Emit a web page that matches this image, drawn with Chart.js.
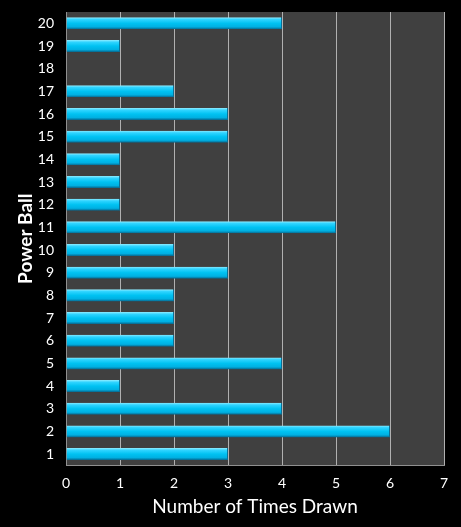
<!DOCTYPE html>
<html><head><meta charset="utf-8">
<script src="https://cdn.jsdelivr.net/npm/chart.js@4"></script>
<style>html,body{margin:0;padding:0;background:#000;}#wrap{width:461px;height:527px;}</style>
</head><body><div id="wrap"><canvas id="c"></canvas></div>
<script>
const categories = ['1','2','3','4','5','6','7','8','9','10','11','12','13','14','15','16','17','18','19','20'];
const timesDrawn = [3,6,4,1,4,2,2,2,3,2,5,1,1,1,3,3,2,0,1,4];
const xTicks = [0,1,2,3,4,5,6,7];

const plotBg = {
  id:'plotBg',
  beforeDraw(chart){
    const {ctx, chartArea:a} = chart;
    ctx.save(); ctx.fillStyle='#404040';
    ctx.fillRect(a.left,a.top,a.right-a.left,a.bottom-a.top); ctx.restore();
  }
};
function barFill(context){
  const chart = context.chart;
  const ys = chart.scales && chart.scales.y;
  if(!ys || !chart.chartArea) return '#00c0f0';
  const y = ys.getPixelForValue(context.dataIndex);
  const h = 6;
  const g = chart.ctx.createLinearGradient(0,y-h,0,y+h);
  g.addColorStop(0,'#90ecff');
  g.addColorStop(0.18,'#30d4ff');
  g.addColorStop(0.5,'#00c2f2');
  g.addColorStop(0.8,'#00b0e2');
  g.addColorStop(1,'#07648a');
  return g;
}
new Chart(document.getElementById('c'),{
  type:'bar',
  data:{labels:categories,datasets:[{data:timesDrawn,backgroundColor:barFill,borderColor:'#0b6f95',borderWidth:{right:1},borderSkipped:'left',categoryPercentage:1,barPercentage:0.53}]},
  options:{
    indexAxis:'y',responsive:true,maintainAspectRatio:false,animation:false,
    layout:{padding:{top:12,right:17,left:14,bottom:9}},
    plugins:{legend:{display:false},tooltip:{enabled:false}},
    scales:{
      x:{min:0,max:7,afterBuildTicks(s){s.ticks=xTicks.map(v=>({value:v}));},
        grid:{color:'#b0b0b0',lineWidth:1,drawTicks:false},
        border:{color:'#909090'},
        ticks:{color:'#fff',font:{family:'Lato',size:14},padding:10},
        title:{display:true,text:'Number of Times Drawn',color:'#fff',font:{family:'Lato',size:19},padding:{top:-7,bottom:0}}},
      y:{reverse:true,grid:{display:false,drawTicks:false},border:{color:'#909090'},
        afterFit(s){s.paddingTop=0;s.paddingBottom=0;},
        ticks:{color:'#fff',font:{family:'Lato',size:14},padding:12,autoSkip:false},
        title:{display:true,text:'Power Ball',color:'#fff',font:{family:'Lato',size:19,weight:'bold'},padding:{top:0,bottom:-11}}}
    }
  },
  plugins:[plotBg]
});
</script></body></html>
